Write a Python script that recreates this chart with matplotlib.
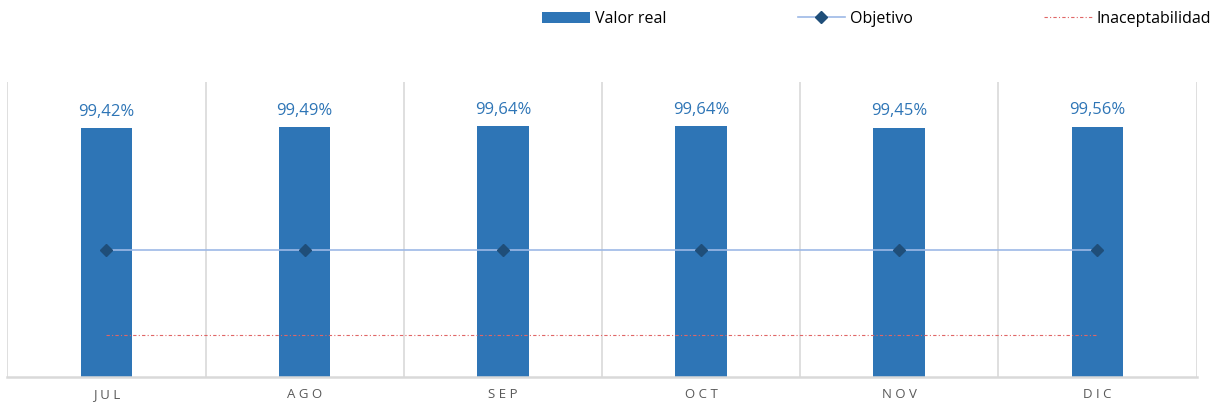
import matplotlib.pyplot as plt
import numpy as np

# Datos
meses = ['JUL', 'AGO', 'SEP', 'OCT', 'NOV', 'DIC']
valor_real = [99.42, 99.49, 99.64, 99.64, 99.45, 99.56]
objetivo = [86.0, 86.0, 86.0, 86.0, 86.0, 86.0]
inaceptabilidad = [76.6, 76.6, 76.6, 76.6, 76.6, 76.6]

plt.rcParams['font.family'] = ['Open Sans', 'DejaVu Sans']

fig = plt.figure(figsize=(12.16, 4.07), dpi=100)
ax = fig.add_axes([0.006, 0.074, 0.978, 0.725])

x = np.arange(len(meses))
bars = ax.bar(x, valor_real, width=0.26, color='#2E75B6', label='Valor real', zorder=2)
l_obj, = ax.plot(x, objetivo, color='#9DB9E6', lw=1.2, marker='D', ms=6,
                 mfc='#1F4E79', mec='#1F4E79', label='Objetivo', zorder=3)
l_ina, = ax.plot(x, inaceptabilidad, color='#E06666', lw=0.8, ls=(0, (3, 2, 1, 2)),
                 label='Inaceptabilidad', zorder=3)

for xi, v in zip(x, valor_real):
    ax.text(xi, v + 0.9, f'{v:.2f}%'.replace('.', ','), ha='center', va='bottom',
            color='#2E75B6', fontsize=12)

ax.set_xlim(-0.5, 5.5)
ax.set_ylim(72, 104.5)
ax.set_yticks([])
ax.set_xticks(x)
ax.set_xticklabels([' '.join(m) for m in meses], color='#595959', fontsize=9.5)
ax.tick_params(axis='x', length=0, pad=8)
ax.set_xticks(np.arange(-0.5, 6, 1), minor=True)
ax.tick_params(axis='x', which='minor', length=0)
ax.grid(axis='x', which='minor', color='#D9D9D9', lw=1.2, zorder=0)

for s in ['top', 'left', 'right']:
    ax.spines[s].set_visible(False)
ax.spines['bottom'].set_color('#D9D9D9')
ax.spines['bottom'].set_linewidth(1.8)

fig.legend(handles=[bars, l_obj, l_ina], loc='upper right', bbox_to_anchor=(1.004, 0.997),
           ncol=3, frameon=False, fontsize=11.5, handlelength=3.0, columnspacing=8.2,
           handletextpad=0.3, borderaxespad=0.2)

fig.savefig('out.png', dpi=100)
